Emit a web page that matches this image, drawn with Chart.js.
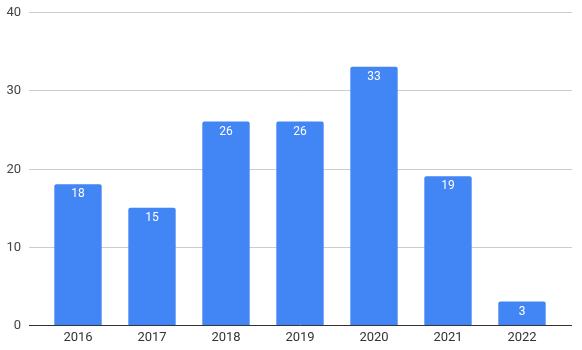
<!DOCTYPE html>
<html>
<head>
<meta charset="utf-8">
<script src="https://cdn.jsdelivr.net/npm/chart.js@4"></script>
<style>
  html, body { margin: 0; padding: 0; background: #fff; }
  #wrap { width: 582px; height: 350px; }
</style>
</head>
<body>
<div id="wrap"><canvas id="chart"></canvas></div>
<script>
const years = ['2016', '2017', '2018', '2019', '2020', '2021', '2022']
const counts = [18, 15, 26, 26, 33, 19, 3]
const yTicks = [0, 10, 20, 30, 40]

const font = "Roboto, 'Liberation Sans', Arial, sans-serif"

// grid lines and y labels span wider than the bars, so draw them by hand
const gridPlugin = {
  id: 'grid',
  beforeDatasetsDraw(chart) {
    const { ctx } = chart
    const y = chart.scales.y
    ctx.save()
    ctx.font = '13px ' + font
    ctx.textAlign = 'right'
    ctx.textBaseline = 'middle'
    yTicks.forEach((t) => {
      const py = Math.round(y.getPixelForValue(t)) + 0.5
      ctx.strokeStyle = t === 0 ? '#333333' : '#cccccc'
      ctx.lineWidth = 1
      ctx.beginPath()
      ctx.moveTo(29, py)
      ctx.lineTo(572, py)
      ctx.stroke()
      ctx.fillStyle = '#444444'
      ctx.fillText(String(t), 21, py)
    })
    ctx.restore()
  },
}

const valuePlugin = {
  id: 'values',
  afterDatasetsDraw(chart) {
    const { ctx } = chart
    const meta = chart.getDatasetMeta(0)
    ctx.save()
    ctx.font = '12px ' + font
    ctx.fillStyle = '#ffffff'
    ctx.textAlign = 'center'
    ctx.textBaseline = 'middle'
    meta.data.forEach((bar, i) => {
      ctx.fillText(String(counts[i]), bar.x, bar.y + 10)
    })
    ctx.restore()
  },
}

new Chart(document.getElementById('chart'), {
  type: 'bar',
  data: {
    labels: years,
    datasets: [
      {
        data: counts,
        backgroundColor: '#4285f4',
        borderRadius: { topLeft: 2, topRight: 2 },
        borderSkipped: 'bottom',
        barPercentage: 0.64,
        categoryPercentage: 1,
      },
    ],
  },
  options: {
    responsive: true,
    maintainAspectRatio: false,
    animation: false,
    layout: { padding: { left: 41, right: 23, top: 12, bottom: 0 } },
    plugins: {
      legend: { display: false },
      tooltip: { enabled: false },
    },
    scales: {
      x: {
        grid: { display: false, drawTicks: false },
        border: { display: false },
        ticks: {
          color: '#333333',
          font: { size: 13, family: font, lineHeight: 1 },
          padding: 6,
        },
      },
      y: {
        display: false,
        min: 0,
        max: 40,
      },
    },
  },
  plugins: [gridPlugin, valuePlugin],
})
</script>
</body>
</html>
